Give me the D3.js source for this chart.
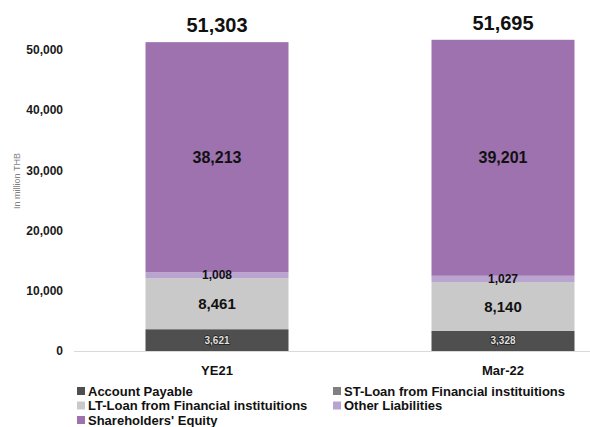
<!DOCTYPE html>
<html lang="en">
<head>
  <meta charset="UTF-8">
  <title>Liabilities and Equity</title>
  <style>
    body { margin: 0; background: #fff; }
    text { font-family: 'Liberation Sans', Arial, sans-serif; }
  </style>
</head>
<body>
  <svg id="svg" width="590" height="427"></svg>
  <script src="https://d3js.org/d3.v7.min.js"></script>
  <script>
    const periods = ['YE21', 'Mar-22']
    const seriesNames = ['Account Payable', 'ST-Loan from Financial instituitions', 'LT-Loan from Financial instituitions', 'Other Liabilities', "Shareholders' Equity"]
    const accountPayable = [3621, 3328]
    const stLoan = [0, 0]
    const ltLoan = [8461, 8140]
    const otherLiabilities = [1008, 1027]
    const equity = [38213, 39201]
    const totals = [51303, 51695]
    const yTicks = [0, 10000, 20000, 30000, 40000, 50000]
    const colors = ['#4f4f4f', '#808080', '#c9c9c9', '#b9a3cf', '#9d72ae']

    const rows = periods.map((p, i) => ({
      period: p,
      'Account Payable': accountPayable[i],
      'ST-Loan from Financial instituitions': stLoan[i],
      'LT-Loan from Financial instituitions': ltLoan[i],
      'Other Liabilities': otherLiabilities[i],
      "Shareholders' Equity": equity[i]
    }))

    const stack = d3.stack().keys(seriesNames)(rows)

    const svg = d3.select('#svg')

    const x = d3.scaleBand()
      .domain(periods)
      .range([74, 646])
      .paddingInner(0.5)
      .paddingOuter(0.25)

    const y = d3.scaleLinear()
      .domain([0, 50000])
      .range([351, 50])

    const colorScale = d3.scaleOrdinal().domain(seriesNames).range(colors)

    // y axis labels
    svg.append('g')
      .selectAll('text')
      .data(yTicks)
      .join('text')
      .attr('x', 63)
      .attr('y', d => y(d))
      .attr('dy', '0.35em')
      .attr('text-anchor', 'end')
      .style('font-size', '12px')
      .style('font-weight', 'bold')
      .attr('fill', '#1a1a1a')
      .text(d => d3.format(',')(d))

    svg.append('text')
      .attr('transform', 'translate(20,181) rotate(-90)')
      .attr('text-anchor', 'middle')
      .style('font-size', '9px')
      .attr('fill', '#7f7f7f')
      .text('In million THB')

    // bars
    const layers = svg.append('g')
      .selectAll('g')
      .data(stack)
      .join('g')
      .attr('fill', d => colorScale(d.key))

    layers.selectAll('rect')
      .data(d => d)
      .join('rect')
      .attr('x', d => x(d.data.period))
      .attr('width', x.bandwidth())
      .attr('y', d => y(d[1]))
      .attr('height', d => y(d[0]) - y(d[1]))

    // baseline
    svg.append('line')
      .attr('x1', 74)
      .attr('x2', 590)
      .attr('y1', y(0) + 0.5)
      .attr('y2', y(0) + 0.5)
      .attr('stroke', '#d9d9d9')
      .attr('stroke-width', 1)

    // segment labels
    const labelStyle = {
      'Account Payable': { size: 10, fill: '#e0e0e0', stroke: '#1e1e1e' },
      'LT-Loan from Financial instituitions': { size: 15, fill: '#111' },
      'Other Liabilities': { size: 12, fill: '#111' },
      "Shareholders' Equity": { size: 16, fill: '#111' }
    }

    stack.forEach(layer => {
      const st = labelStyle[layer.key]
      if (!st) return
      layer.forEach(d => {
        if (d[1] - d[0] <= 0) return
        svg.append('text')
          .attr('x', x(d.data.period) + x.bandwidth() / 2)
          .attr('y', (y(d[0]) + y(d[1])) / 2)
          .attr('dy', '0.35em')
          .attr('text-anchor', 'middle')
          .style('font-size', st.size + 'px')
          .style('font-weight', 'bold')
          .style('paint-order', 'stroke')
          .attr('fill', st.fill)
          .attr('stroke', st.stroke || 'none')
          .attr('stroke-width', st.stroke ? 1.5 : 0)
          .text(d3.format(',')(d[1] - d[0]))
      })
    })

    // totals
    svg.append('g')
      .selectAll('text')
      .data(periods)
      .join('text')
      .attr('x', d => x(d) + x.bandwidth() / 2)
      .attr('y', (d, i) => y(totals[i]) - 10)
      .attr('text-anchor', 'middle')
      .style('font-size', '20px')
      .style('font-weight', 'bold')
      .attr('fill', '#111')
      .text((d, i) => d3.format(',')(totals[i]))

    // category labels
    svg.append('g')
      .selectAll('text')
      .data(periods)
      .join('text')
      .attr('x', d => x(d) + x.bandwidth() / 2)
      .attr('y', 375)
      .attr('text-anchor', 'middle')
      .style('font-size', '13px')
      .style('font-weight', 'bold')
      .attr('fill', '#111')
      .text(d => d)

    // legend
    const legendPos = [[77, 391], [333, 391], [77, 405.5], [333, 405.5], [77, 420]]
    const legend = svg.append('g')
      .selectAll('g')
      .data(seriesNames)
      .join('g')
      .attr('transform', (d, i) => `translate(${legendPos[i][0]},${legendPos[i][1]})`)

    legend.append('rect')
      .attr('x', 0)
      .attr('y', -4)
      .attr('width', 8)
      .attr('height', 8)
      .attr('fill', d => colorScale(d))

    legend.append('text')
      .attr('x', 11)
      .attr('dy', '0.35em')
      .style('font-size', '13px')
      .style('font-weight', 'bold')
      .attr('fill', '#111')
      .text(d => d)
  </script>
</body>
</html>
